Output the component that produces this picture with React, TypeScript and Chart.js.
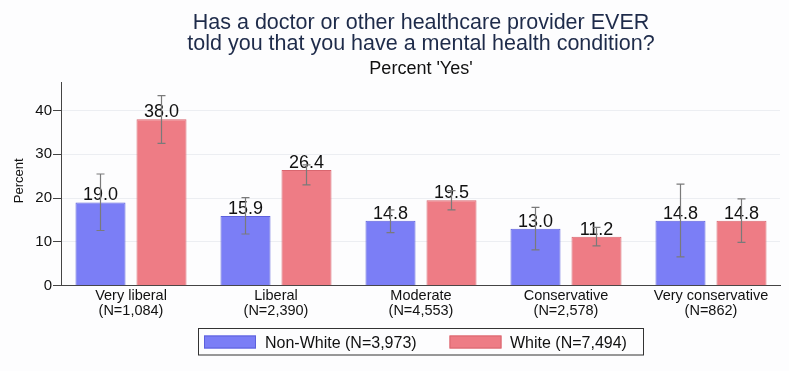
import { useEffect, useRef } from "react";
import { Chart, registerables } from "chart.js";

Chart.register(...registerables);

const categories = ["Very liberal", "Liberal", "Moderate", "Conservative", "Very conservative"];
const categoryN = ["(N=1,084)", "(N=2,390)", "(N=4,553)", "(N=2,578)", "(N=862)"];
const seriesNames = ["Non-White (N=3,973)", "White (N=7,494)"];
const nonWhite = [19.0, 15.9, 14.8, 13.0, 14.8];
const nonWhiteLo = [12.6, 11.8, 12.1, 8.2, 6.6];
const nonWhiteHi = [25.5, 20.1, 17.3, 17.9, 23.2];
const white = [38.0, 26.4, 19.5, 11.2, 14.8];
const whiteLo = [32.5, 23.0, 17.3, 9.1, 9.9];
const whiteHi = [43.4, 27.6, 21.7, 13.3, 19.8];
const yTicks = [0, 10, 20, 30, 40];
const titleLines = [
  "Has a doctor or other healthcare provider EVER",
  "told you that you have a mental health condition?",
];
const subtitle = "Percent 'Yes'";
const yTitle = "Percent";

const FONT = "'Liberation Sans', Arial, Helvetica, sans-serif";
const BLUE = "#7b7ef6";
const BLUE_BORDER = "#5c60dc";
const RED = "#ee7c85";
const RED_BORDER = "#d9666f";

export default function App() {
  const ref = useRef<HTMLCanvasElement | null>(null);

  useEffect(() => {
    document.body.style.margin = "0";
    const canvas = ref.current;
    if (!canvas) return;
    const lows = [nonWhiteLo, whiteLo];
    const highs = [nonWhiteHi, whiteHi];

    const decor = {
      id: "decor",
      beforeDraw(chart: any) {
        const ctx = chart.ctx;
        ctx.save();
        ctx.fillStyle = "#fdfdfe";
        ctx.fillRect(0, 0, chart.width, chart.height);
        ctx.restore();
      },
      afterDatasetsDraw(chart: any) {
        const ctx = chart.ctx;
        const y = chart.scales.y;
        ctx.save();
        ctx.font = `18px ${FONT}`;
        ctx.fillStyle = "#111111";
        ctx.textAlign = "center";
        ctx.textBaseline = "alphabetic";
        chart.data.datasets.forEach((ds: any, di: number) => {
          const meta = chart.getDatasetMeta(di);
          meta.data.forEach((bar: any, i: number) => {
            const v = ds.data[i].y;
            ctx.fillText(v.toFixed(1), bar.x, bar.y - 2);
          });
        });
        ctx.strokeStyle = "#7a7a7a";
        ctx.lineWidth = 1.2;
        chart.data.datasets.forEach((_ds: any, di: number) => {
          const meta = chart.getDatasetMeta(di);
          meta.data.forEach((bar: any, i: number) => {
            const yl = y.getPixelForValue(lows[di][i]);
            const yh = y.getPixelForValue(highs[di][i]);
            const x = bar.x;
            ctx.beginPath();
            ctx.moveTo(x, yl);
            ctx.lineTo(x, yh);
            ctx.moveTo(x - 4, yl);
            ctx.lineTo(x + 4, yl);
            ctx.moveTo(x - 4, yh);
            ctx.lineTo(x + 4, yh);
            ctx.stroke();
          });
        });
        ctx.restore();
      },
      afterDraw(chart: any) {
        const ctx = chart.ctx;
        const area = chart.chartArea;
        const cx = 421;
        ctx.save();
        ctx.textAlign = "center";
        ctx.textBaseline = "alphabetic";
        ctx.fillStyle = "#1e2b4a";
        ctx.font = `21.5px ${FONT}`;
        ctx.fillText(titleLines[0], cx, 28.5);
        ctx.fillText(titleLines[1], cx, 50.2);
        ctx.fillStyle = "#111111";
        ctx.font = `18px ${FONT}`;
        ctx.fillText(subtitle, cx, 74);
        ctx.save();
        ctx.translate(19, (area.top + area.bottom) / 2 - 3);
        ctx.rotate(-Math.PI / 2);
        ctx.font = `13px ${FONT}`;
        ctx.textBaseline = "middle";
        ctx.fillText(yTitle, 0, 0);
        ctx.restore();
        ctx.strokeStyle = "#333333";
        ctx.lineWidth = 1;
        ctx.strokeRect(198.5, 328.5, 445, 26.5);
        const sw = [
          { x: 204, tx: 265, fill: BLUE, border: BLUE_BORDER, label: seriesNames[0] },
          { x: 449.5, tx: 510, fill: RED, border: RED_BORDER, label: seriesNames[1] },
        ];
        ctx.font = `16px ${FONT}`;
        ctx.textAlign = "left";
        sw.forEach((s) => {
          ctx.fillStyle = s.fill;
          ctx.fillRect(s.x, 335.5, 52, 13);
          ctx.strokeStyle = s.border;
          ctx.strokeRect(s.x + 0.5, 336, 51, 12);
          ctx.fillStyle = "#111111";
          ctx.fillText(s.label, s.tx, 348.3);
        });
        ctx.restore();
      },
    };

    const chart = new Chart(canvas, {
      type: "bar",
      data: {
        datasets: [
          {
            label: seriesNames[0],
            data: nonWhite.map((v, i) => ({ x: i, y: v })),
            backgroundColor: BLUE,
            borderColor: BLUE_BORDER,
            borderWidth: 1,
            categoryPercentage: 0.8414,
            barPercentage: 0.8197,
          },
          {
            label: seriesNames[1],
            data: white.map((v, i) => ({ x: i, y: v })),
            backgroundColor: RED,
            borderColor: RED_BORDER,
            borderWidth: 1,
            categoryPercentage: 0.8414,
            barPercentage: 0.8197,
          },
        ],
      },
      options: {
        responsive: false,
        animation: false,
        devicePixelRatio: 1,
        layout: { padding: { top: 82, right: 9, bottom: 45.3, left: 0 } },
        plugins: {
          legend: { display: false },
          title: { display: false },
          tooltip: { enabled: false },
        },
        scales: {
          x: {
            type: "linear",
            offset: false,
            min: -0.4828,
            max: 4.4759,
            afterBuildTicks: (scale: any) => {
              scale.ticks = categories.map((_c, i) => ({ value: i }));
            },
            afterFit: (scale: any) => {
              scale.height = 40;
            },
            grid: { display: false, drawTicks: false, offset: false },
            border: { display: true, color: "#444444", width: 1 },
            ticks: {
              autoSkip: false,
              maxRotation: 0,
              padding: 3,
              color: "#111111",
              font: { family: FONT, size: 14.5, lineHeight: 1.04 },
              callback: (v: any) => [categories[v], categoryN[v]],
            },
          },
          y: {
            min: 0,
            max: 46.5,
            afterBuildTicks: (scale: any) => {
              scale.ticks = yTicks.map((v) => ({ value: v }));
            },
            afterFit: (scale: any) => {
              scale.width = 61;
            },
            grid: {
              color: "#eceef2",
              tickColor: "#444444",
              drawTicks: true,
              tickLength: 8,
              lineWidth: 1,
            },
            border: { display: true, color: "#444444", width: 1 },
            ticks: {
              padding: 1,
              color: "#111111",
              font: { family: FONT, size: 15 },
            },
          },
        },
      },
      plugins: [decor],
    });
    return () => chart.destroy();
  }, []);

  return <canvas ref={ref} width={789} height={371} style={{ display: "block" }} />;
}
